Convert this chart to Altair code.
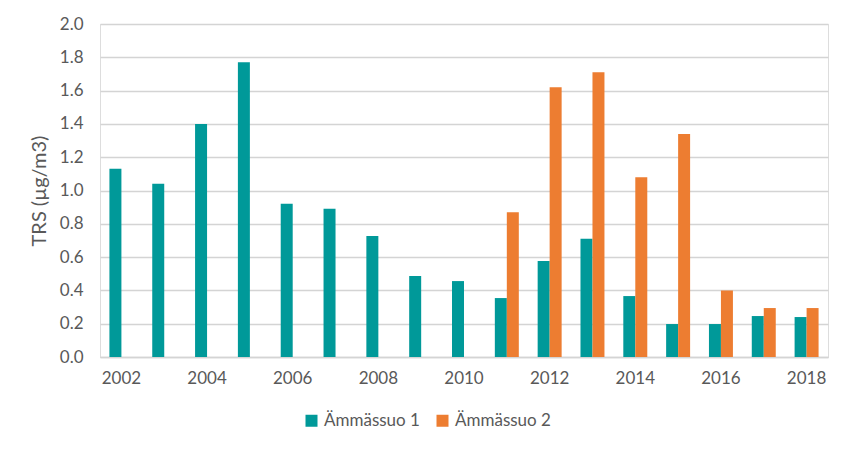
import altair as alt
import pandas as pd

years = list(range(2002, 2019))
series1 = [1.13, 1.04, 1.40, 1.77, 0.92, 0.89, 0.727, 0.487, 0.456, 0.354,
           0.577, 0.71, 0.366, 0.198, 0.198, 0.246, 0.24]
series2 = [None, None, None, None, None, None, None, None, None, 0.87,
           1.62, 1.71, 1.08, 1.34, 0.40, 0.294, 0.294]
names = ["Ämmässuo 1", "Ämmässuo 2"]
colors = ["#009999", "#ED7D31"]
label_years = list(range(2002, 2019, 2))

rows = []
for y, a, b in zip(years, series1, series2):
    rows.append({"year": y, "series": names[0], "value": a})
    rows.append({"year": y, "series": names[1], "value": b})
df = pd.DataFrame(rows)

FONT = "Lato"
GRAY = "#595959"

chart = alt.Chart(df).mark_bar().encode(
    x=alt.X("year:O",
            scale=alt.Scale(paddingInner=0.44, paddingOuter=0.22),
            axis=alt.Axis(title=None, values=label_years, labelAngle=0,
                          labelFontSize=17, labelColor=GRAY, labelFont=FONT,
                          labelPadding=13, ticks=False, domainColor="#D4D4D4",
                          domainWidth=1.5, grid=False)),
    xOffset=alt.XOffset("series:N", sort=names,
                        scale=alt.Scale(paddingInner=0, paddingOuter=0)),
    y=alt.Y("value:Q",
            scale=alt.Scale(domain=[0, 2]),
            axis=alt.Axis(title="TRS (µg/m3)", values=[i / 10 for i in range(0, 21, 2)],
                          format=".1f", labelFontSize=17, labelColor=GRAY,
                          labelFont=FONT, labelPadding=17, ticks=False,
                          domain=False, gridColor="#D4D4D4", gridWidth=1.5,
                          titleFont=FONT, titleFontSize=20, titleColor=GRAY,
                          titleFontWeight="normal", titlePadding=10)),
    color=alt.Color("series:N", sort=names,
                    scale=alt.Scale(domain=names, range=colors),
                    legend=alt.Legend(title=None, orient="none", direction="horizontal",
                                      legendX=203, legendY=388,
                                      symbolType="square", symbolSize=144,
                                      symbolStrokeWidth=0,
                                      labelFont=FONT, labelFontSize=17,
                                      labelColor=GRAY, columnPadding=14,
                                      labelOffset=4)),
).properties(
    width=728, height=333,
    autosize=alt.AutoSizeParams(type="none"),
    padding={"left": 92, "top": 16, "right": 16, "bottom": 89},
).configure_view(
    fill="#EEEEEE", stroke=None
).configure(background="white")

chart.save("out.html", embed_options={"renderer": "svg", "actions": False})
